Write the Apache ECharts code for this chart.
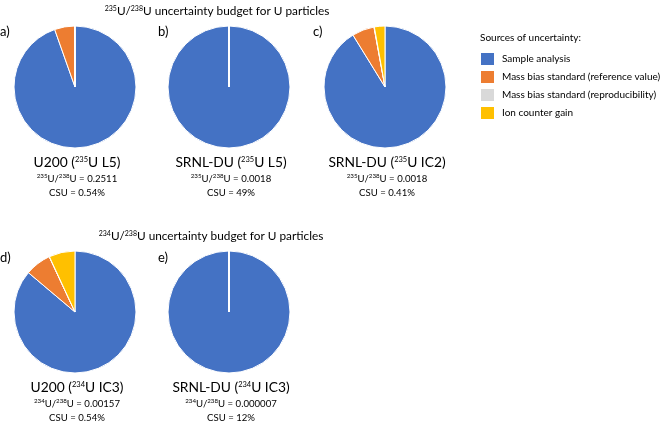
<!DOCTYPE html>
<html><head><meta charset="utf-8">
<script src="https://cdn.jsdelivr.net/npm/echarts@6/dist/echarts.min.js"></script>
<style>html,body{margin:0;padding:0;background:#fff}#c{width:661px;height:424px}</style>
</head><body><div id="c"></div>
<script>
// ---- data ----
const sources = ['Sample analysis', 'Mass bias standard (reference value)', 'Mass bias standard (reproducibility)', 'Ion counter gain'];
const colors = ['#4472C4', '#ED7D31', '#D9D9D9', '#FFC000'];
const panelLabels = ['a)', 'b)', 'c)', 'd)', 'e)'];
const samples = ['U200', 'SRNL-DU', 'SRNL-DU', 'U200', 'SRNL-DU'];
const isoMass = ['235', '235', '235', '234', '234'];
const detectors = ['L5', 'L5', 'IC2', 'IC3', 'IC3'];
const ratios = ['0.2511', '0.0018', '0.0018', '0.00157', '0.000007'];
const csu = ['0.54%', '49%', '0.41%', '0.54%', '12%'];
const valuesA = [94.5, 5.3, 0.1, 0];
const valuesB = [99.9, 0.03, 0.03, 0];
const valuesC = [91.2, 5.9, 0.1, 2.8];
const valuesD = [86.2, 6.9, 0.05, 6.9];
const valuesE = [99.9, 0.03, 0.03, 0];
const titleMasses = ['235', '234'];

// ---- layout ----
const allValues = [valuesA, valuesB, valuesC, valuesD, valuesE];
const centers = [[75, 87], [229, 87], [385, 87], [75, 312], [229, 312]];
const R = 61;
const labelPos = [[0, 32], [158, 32], [313, 32], [0, 258], [158, 258]];
const FONT = 'Lato';
const rich = {
  b: {fontSize: 13.8, fontFamily: FONT, color: '#000'},
  bs: {fontSize: 7.5, fontFamily: FONT, color: '#000', padding: [0, 0, 6, 0]},
  m: {fontSize: 9.6, fontFamily: FONT, color: '#000'},
  ms: {fontSize: 6.2, fontFamily: FONT, color: '#000', padding: [0, 0, 4, 0]},
  t: {fontSize: 11.8, fontFamily: FONT, color: '#000'},
  ts: {fontSize: 7, fontFamily: FONT, color: '#000', padding: [0, 0, 5, 0]},
  p: {fontSize: 13, fontFamily: FONT, color: '#000'},
  l: {fontSize: 10, fontFamily: FONT, color: '#000'}
};

const series = allValues.map((vals, i) => ({
  type: 'pie',
  center: centers[i],
  radius: R,
  startAngle: 90,
  clockwise: true,
  label: {show: false},
  labelLine: {show: false},
  emphasis: {disabled: true},
  silent: true,
  itemStyle: {borderColor: '#fff', borderWidth: 1},
  data: vals.map((v, j) => ({name: sources[j], value: v, itemStyle: {color: colors[j]}}))
}));

const graphics = [];
function txt(x, y, text, align) {
  graphics.push({type: 'text', x: x, y: y, silent: true,
    style: {text: text, rich: rich, align: align || 'center', verticalAlign: 'middle', font: '12px ' + FONT, fill: '#000'}});
}
// titles
txt(217, 11, '{ts|' + titleMasses[0] + '}{t|U/}{ts|238}{t|U uncertainty budget for U particles}');
txt(211, 236, '{ts|' + titleMasses[1] + '}{t|U/}{ts|238}{t|U uncertainty budget for U particles}');
// panel labels
panelLabels.forEach((l, i) => txt(labelPos[i][0], labelPos[i][1], '{p|' + l + '}', 'left'));
// captions
centers.forEach((c, i) => {
  const y0 = c[1] + 76;
  txt(c[0] + 2, y0, '{b|' + samples[i] + ' (}{bs|' + isoMass[i] + '}{b|U ' + detectors[i] + ')}');
  txt(c[0] + 2, y0 + 15.5, '{ms|' + isoMass[i] + '}{m|U/}{ms|238}{m|U = ' + ratios[i] + '}');
  txt(c[0] + 2, y0 + 30, '{m|CSU = ' + csu[i] + '}');
});
// legend heading
txt(480, 38, '{l|Sources of uncertainty:}', 'left');

const chart = echarts.init(document.getElementById('c'));
chart.setOption({
  animation: false,
  legend: {
    orient: 'vertical', left: 479, top: 51, padding: 0,
    itemWidth: 15, itemHeight: 14, itemGap: 2,
    icon: 'rect', selectedMode: false,
    textStyle: {fontFamily: FONT, fontSize: 10, color: '#000', padding: [0, 0, 0, 2], lineHeight: 14},
    data: sources
  },
  series: series,
  graphic: graphics
});
</script></body></html>
